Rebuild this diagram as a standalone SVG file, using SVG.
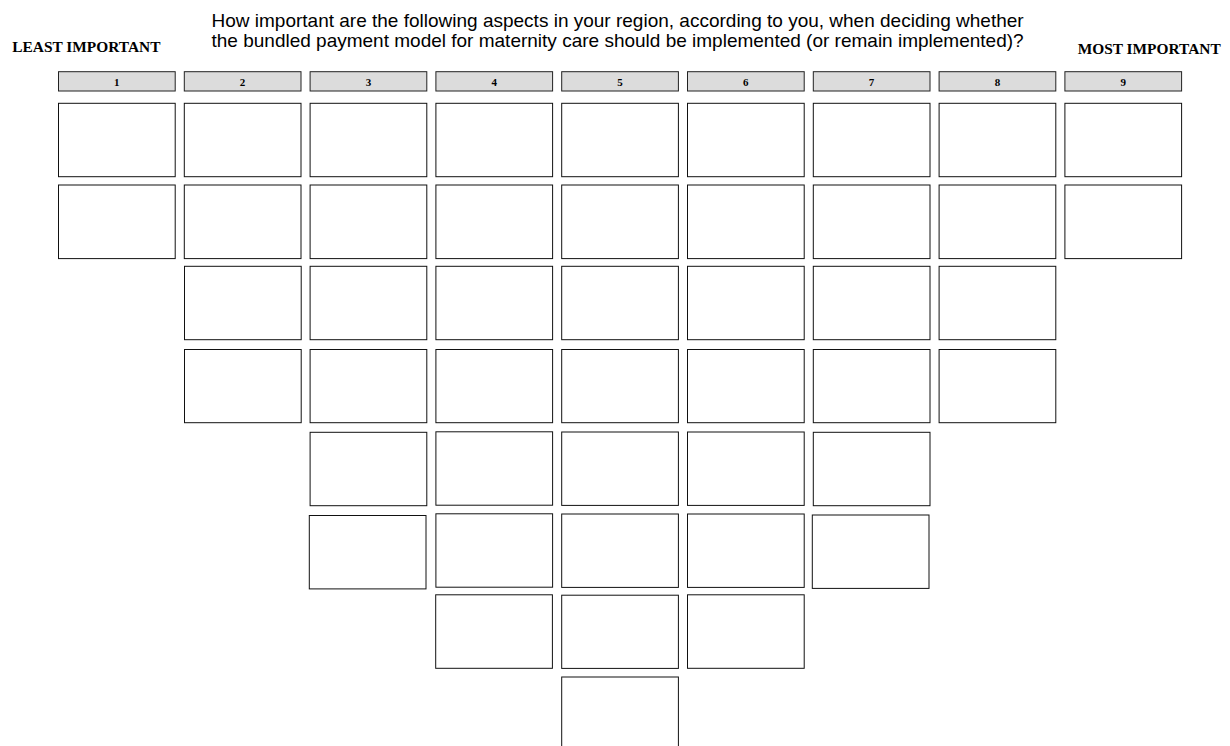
<svg xmlns="http://www.w3.org/2000/svg" width="1230" height="746" viewBox="0 0 1230 746">
<style>
.title{font-family:"Liberation Sans",Arial,sans-serif;font-size:19px;fill:#000}
.side{font-family:"Liberation Serif","Times New Roman",serif;font-size:15.4px;font-weight:bold;fill:#000}
.hdr rect{fill:#dcdcdc;stroke:#222;stroke-width:1}
.hdr text{font-family:"Liberation Serif","Times New Roman",serif;font-size:11px;font-weight:bold;fill:#000;text-anchor:middle}
.box rect{fill:#fff;stroke:#111;stroke-width:1}
</style>
<rect width="1230" height="746" fill="#fff"/>
<g id="title">
<text class="title" x="211.5" y="26.5">How important are the following aspects in your region, according to you, when deciding whether</text>
<text class="title" x="211.5" y="47">the bundled payment model for maternity care should be implemented (or remain implemented)?</text>
</g>
<g id="label-least"><text class="side" x="12.3" y="51.5">LEAST IMPORTANT</text></g>
<g id="label-most"><text class="side" x="1077.7" y="54">MOST IMPORTANT</text></g>
<g id="headers">
<g id="h1" class="hdr"><rect x="58.5" y="71.7" width="116.7" height="19.3"/><text x="116.8" y="85.5">1</text></g>
<g id="h2" class="hdr"><rect x="184.3" y="71.7" width="116.7" height="19.3"/><text x="242.6" y="85.5">2</text></g>
<g id="h3" class="hdr"><rect x="310.1" y="71.7" width="116.7" height="19.3"/><text x="368.4" y="85.5">3</text></g>
<g id="h4" class="hdr"><rect x="435.9" y="71.7" width="116.7" height="19.3"/><text x="494.2" y="85.5">4</text></g>
<g id="h5" class="hdr"><rect x="561.7" y="71.7" width="116.7" height="19.3"/><text x="620" y="85.5">5</text></g>
<g id="h6" class="hdr"><rect x="687.5" y="71.7" width="116.7" height="19.3"/><text x="745.8" y="85.5">6</text></g>
<g id="h7" class="hdr"><rect x="813.3" y="71.7" width="116.7" height="19.3"/><text x="871.6" y="85.5">7</text></g>
<g id="h8" class="hdr"><rect x="939.1" y="71.7" width="116.7" height="19.3"/><text x="997.4" y="85.5">8</text></g>
<g id="h9" class="hdr"><rect x="1064.9" y="71.7" width="116.7" height="19.3"/><text x="1123.2" y="85.5">9</text></g>
</g>
<g id="connectors"/>
<g id="boxes">
<g id="r1c1" class="box"><rect x="58.5" y="103.3" width="116.7" height="73.4"/></g>
<g id="r1c2" class="box"><rect x="184.3" y="103.3" width="116.7" height="73.4"/></g>
<g id="r1c3" class="box"><rect x="310.1" y="103.3" width="116.7" height="73.4"/></g>
<g id="r1c4" class="box"><rect x="435.9" y="103.3" width="116.7" height="73.4"/></g>
<g id="r1c5" class="box"><rect x="561.7" y="103.3" width="116.7" height="73.4"/></g>
<g id="r1c6" class="box"><rect x="687.5" y="103.3" width="116.7" height="73.4"/></g>
<g id="r1c7" class="box"><rect x="813.3" y="103.3" width="116.7" height="73.4"/></g>
<g id="r1c8" class="box"><rect x="939.1" y="103.3" width="116.7" height="73.4"/></g>
<g id="r1c9" class="box"><rect x="1064.9" y="103.3" width="116.7" height="73.4"/></g>

<g id="r2c1" class="box"><rect x="58.5" y="185" width="116.7" height="73.6"/></g>
<g id="r2c2" class="box"><rect x="184.3" y="185" width="116.7" height="73.6"/></g>
<g id="r2c3" class="box"><rect x="310.1" y="185" width="116.7" height="73.6"/></g>
<g id="r2c4" class="box"><rect x="435.9" y="185" width="116.7" height="73.6"/></g>
<g id="r2c5" class="box"><rect x="561.7" y="185" width="116.7" height="73.6"/></g>
<g id="r2c6" class="box"><rect x="687.5" y="185" width="116.7" height="73.6"/></g>
<g id="r2c7" class="box"><rect x="813.3" y="185" width="116.7" height="73.6"/></g>
<g id="r2c8" class="box"><rect x="939.1" y="185" width="116.7" height="73.6"/></g>
<g id="r2c9" class="box"><rect x="1064.9" y="185" width="116.7" height="73.6"/></g>

<g id="r3c2" class="box"><rect x="184.5" y="266.3" width="116.7" height="73.4"/></g>
<g id="r3c3" class="box"><rect x="310.1" y="266.3" width="116.7" height="73.4"/></g>
<g id="r3c4" class="box"><rect x="435.9" y="266.3" width="116.7" height="73.4"/></g>
<g id="r3c5" class="box"><rect x="561.7" y="266.3" width="116.7" height="73.4"/></g>
<g id="r3c6" class="box"><rect x="687.5" y="266.3" width="116.7" height="73.4"/></g>
<g id="r3c7" class="box"><rect x="813.3" y="266.3" width="116.7" height="73.4"/></g>
<g id="r3c8" class="box"><rect x="939.1" y="266.3" width="116.7" height="73.4"/></g>

<g id="r4c2" class="box"><rect x="184.5" y="349.5" width="116.7" height="73.2"/></g>
<g id="r4c3" class="box"><rect x="310.1" y="349.5" width="116.7" height="73.2"/></g>
<g id="r4c4" class="box"><rect x="435.9" y="349.5" width="116.7" height="73.2"/></g>
<g id="r4c5" class="box"><rect x="561.7" y="349.5" width="116.7" height="73.2"/></g>
<g id="r4c6" class="box"><rect x="687.5" y="349.5" width="116.7" height="73.2"/></g>
<g id="r4c7" class="box"><rect x="813.3" y="349.5" width="116.7" height="73.2"/></g>
<g id="r4c8" class="box"><rect x="939.1" y="349.5" width="116.7" height="73.2"/></g>

<g id="r5c3" class="box"><rect x="310.1" y="432.3" width="116.7" height="73.4"/></g>
<g id="r5c4" class="box"><rect x="435.9" y="431.8" width="116.7" height="73.4"/></g>
<g id="r5c5" class="box"><rect x="561.7" y="432" width="116.7" height="73.4"/></g>
<g id="r5c6" class="box"><rect x="687.5" y="432" width="116.7" height="73.4"/></g>
<g id="r5c7" class="box"><rect x="813.3" y="432.3" width="116.7" height="73.4"/></g>

<g id="r6c3" class="box"><rect x="309.3" y="515.5" width="116.7" height="73.4"/></g>
<g id="r6c4" class="box"><rect x="435.9" y="513.8" width="116.7" height="73.4"/></g>
<g id="r6c5" class="box"><rect x="561.7" y="514" width="116.7" height="73.4"/></g>
<g id="r6c6" class="box"><rect x="687.5" y="514" width="116.7" height="73.4"/></g>
<g id="r6c7" class="box"><rect x="812.3" y="515" width="116.7" height="73.4"/></g>

<g id="r7c4" class="box"><rect x="435.7" y="594.8" width="116.7" height="73.5"/></g>
<g id="r7c5" class="box"><rect x="561.7" y="595.2" width="116.7" height="73.2"/></g>
<g id="r7c6" class="box"><rect x="687.5" y="594.8" width="116.7" height="73.5"/></g>

<g id="r8c5" class="box"><rect x="561.7" y="677" width="116.7" height="73.4"/></g>
</g>
</svg>
